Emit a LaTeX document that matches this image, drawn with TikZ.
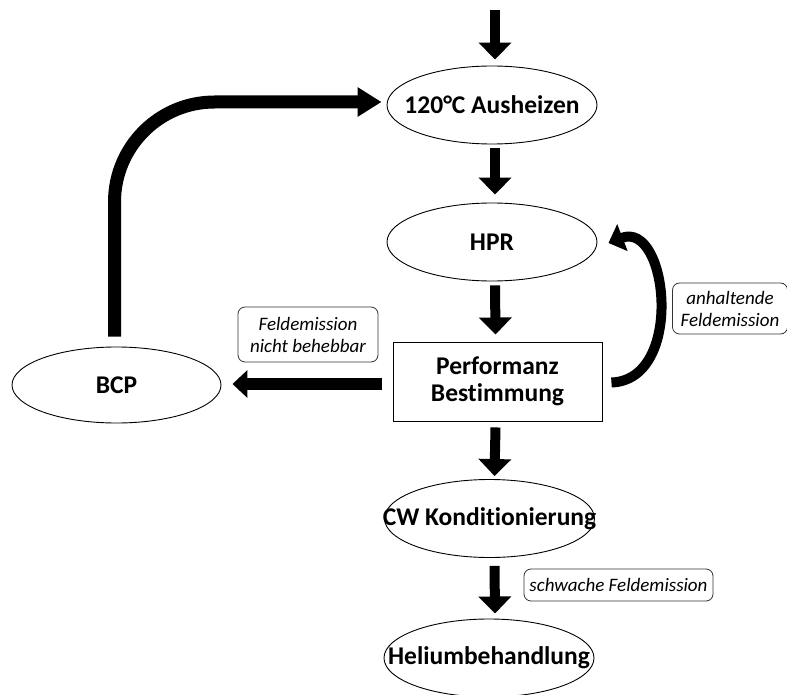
\documentclass[tikz,border=0pt]{standalone}
\usepackage{fontspec}
\setmainfont{Carlito}[Ligatures={NoCommon,NoContextual}]
\usetikzlibrary{shapes.geometric,arrows.meta,calc}
\tikzset{
  proc/.style={draw,ellipse,line width=0.9pt,minimum width=210pt,minimum height=78pt,inner sep=0pt},
  procbox/.style={draw,rectangle,line width=0.9pt,minimum width=209pt,minimum height=79pt,inner sep=0pt},
  txt/.style={font=\fontsize{25.5}{27}\selectfont\bfseries,align=center,inner sep=0pt},
  note/.style={draw=black!80,rounded corners=7pt,line width=0.8pt,font=\fontsize{19}{22}\selectfont\itshape,align=center,inner sep=0pt},
  flow/.style={line width=10pt,-{Triangle[width=32pt,length=17pt]}},
}
\begin{document}
\begin{tikzpicture}[x=1pt,y=-1pt]
\useasboundingbox (0,0) rectangle (787,695);
\fill[white] (0,0) rectangle (787,695);
% nodes
\node[proc] (aus) at (492,105) {};
\node[txt] at (aus) {120°C Ausheizen};
\node[proc] (hpr) at (492,242) {};
\node[txt] at (hpr) {HPR};
\node[procbox] (perf) at (497.5,381.5) {};
\node[txt] at (perf) {Performanz\\Bestimmung};
\node[proc] (cw) at (489.5,518.5) {};
\node[txt] at (cw) {CW Konditionierung};
\node[proc] (hel) at (489,658) {};
\node[txt] at (hel) {Heliumbehandlung};
\node[proc,minimum height=76pt,minimum width=209pt] (bcp) at (116.5,385) {};
\node[txt] at (bcp) {BCP};
% notes
\node[note,minimum width=140pt,minimum height=55pt] (n1) at (308,334.5) {Feldemission\\nicht behebbar};
\node[note,minimum width=115pt,minimum height=51pt] (n2) at (730,308.5) {anhaltende\\Feldemission};
\node[note,minimum width=189pt,minimum height=32pt] (n3) at (618.5,585) {schwache Feldemission};
% coordinates
\coordinate (top) at (495,10);
% vertical flow arrows
\draw[flow] (top) -- ($(aus.north)+(3,-6)$);
\draw[flow] ($(aus.south)+(3,4)$) -- ($(hpr.north)+(3,-8)$);
\draw[flow] ($(hpr.south)+(3,4)$) -- ($(perf.north)+(-2,-7)$);
\draw[flow] ($(perf.south)+(-2,6)$) -- ($(cw.north)+(5,-3)$);
\draw[flow] ($(cw.south)+(5,8)$) -- ($(hel.north)+(6,-5)$);
% to BCP
\draw[line width=12pt,-{Triangle[width=27pt,length=15pt]}] ($(perf.west)+(-11,2.5)$) -- ($(bcp.east)+(11,-1)$);
% BCP back to Ausheizen
\draw[line width=13pt,rounded corners=100pt,-{Triangle[width=28pt,length=24pt]}] ($(bcp.north)+(-2,-10)$) |- ($(aus.west)+(-5,-3)$);
% loop back to HPR
\draw[line width=10pt,-{Triangle[width=28pt,length=15pt]}] ($(perf.east)+(9,1)$) .. controls (685,380) and (668,220) .. ($(hpr.east)+(11,1)$);
\end{tikzpicture}
\end{document}
